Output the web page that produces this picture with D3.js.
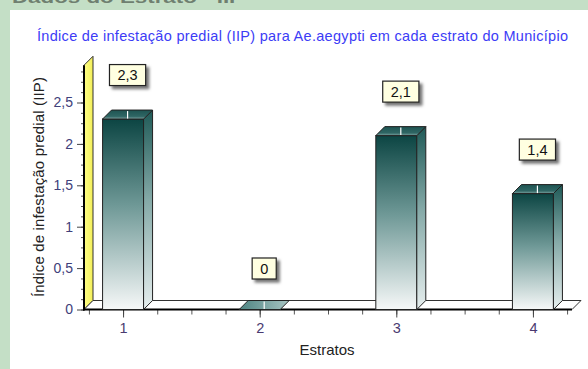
<!DOCTYPE html>
<html>
<head>
<meta charset="utf-8">
<script src="https://cdn.jsdelivr.net/npm/d3@7"></script>
<style>
  html, body { margin: 0; padding: 0; background: #c4dfc6; }
  svg { display: block; }
  text { font-family: "Liberation Sans", Arial, sans-serif; }
</style>
</head>
<body>
<svg id="chart" width="588" height="369"></svg>
<script>
// ---- data ----
const pageHeading = "Dados do Estrato - IIP";
const chartTitle = "Índice de infestação predial (IIP) para Ae.aegypti em cada estrato do Município";
const xAxisTitle = "Estratos";
const yAxisTitle = "Índice de infestação predial (IIP)";
const categories = [1, 2, 3, 4];
const values = [2.3, 0, 2.1, 1.4];
const valueLabels = ["2,3", "0", "2,1", "1,4"];
const yTickValues = [0, 0.5, 1, 1.5, 2, 2.5];
const yTickLabels = ["0", "0,5", "1", "1,5", "2", "2,5"];

// ---- layout ----
const svg = d3.select("#chart");
const depth = 9;
const barW = 41;
const x = d3.scaleLinear().domain([0.714, 4.286]).range([84, 572]);
const y = d3.scaleLinear().domain([0, 2.5]).range([309.5, 102.5]);
const wallTop = 2.95;

const defs = svg.append("defs");
function grad(id, stops, horiz) {
  const g = defs.append("linearGradient").attr("id", id)
    .attr("x1", 0).attr("y1", 0).attr("x2", horiz ? 1 : 0).attr("y2", horiz ? 0 : 1);
  stops.forEach(s => g.append("stop").attr("offset", s[0]).attr("stop-color", s[1]));
}
grad("gFront", [[0, "#0c4543"], [0.45, "#6e9896"], [1, "#f6f8f8"]]);
grad("gSide", [[0, "#1f5a57"], [0.45, "#84a9a7"], [1, "#e6eeee"]]);
grad("gTop", [[0, "#1e5452"], [0.7, "#2f6664"], [1, "#7fa5a3"]]);
grad("gTopZero", [[0, "#4e8482"], [1, "#a7c4c2"]], true);
grad("gWall", [[0, "#ffff88"], [1, "#f2ee58"]], true);
const f = defs.append("filter").attr("id", "shadow").attr("x", "-30%").attr("y", "-30%").attr("width", "170%").attr("height", "170%");
f.append("feDropShadow").attr("dx", 3).attr("dy", 3).attr("stdDeviation", 1.6)
  .attr("flood-color", "#000").attr("flood-opacity", 0.55);

// page heading (cut off at top, as in the original screenshot) and white panel
svg.append("text").attr("x", 12).attr("y", 3).attr("font-size", 17).attr("font-weight", "bold")
  .attr("fill", "#6f7f70").attr("textLength", 232).attr("lengthAdjust", "spacingAndGlyphs").text(pageHeading);
svg.append("rect").attr("x", 10).attr("y", 10).attr("width", 590).attr("height", 370).attr("fill", "#ffffff");

// title
svg.append("text").attr("x", 37).attr("y", 41).attr("font-size", 14.5).attr("fill", "#3c3cf6")
  .attr("textLength", 531).attr("lengthAdjust", "spacing").text(chartTitle);

// back yellow wall
const y0 = y(0);
svg.append("polygon")
  .attr("points", [[84, y0], [84 + depth, y0 - depth], [84 + depth, y(wallTop) - depth], [84, y(wallTop)]].map(p => p.join(",")).join(" "))
  .attr("fill", "url(#gWall)").attr("stroke", "#333").attr("stroke-width", 1);

// floor
svg.append("polygon")
  .attr("points", [[84, y0], [x.range()[1], y0], [x.range()[1] + depth, y0 - depth], [84 + depth, y0 - depth]].map(p => p.join(",")).join(" "))
  .attr("fill", "#ffffff").attr("stroke", "#333").attr("stroke-width", 1);

// y axis: minor ticks
const minorY = d3.range(0, wallTop, 0.125);
svg.append("g").attr("transform", "translate(84,0)")
  .call(d3.axisLeft(y).tickValues(minorY).tickSize(3).tickFormat(""))
  .call(g => g.select(".domain").remove())
  .call(g => g.selectAll("line").attr("stroke", "#555"));
// y axis: major ticks
svg.append("g").attr("transform", "translate(84,0)")
  .call(d3.axisLeft(y).tickValues(yTickValues).tickSize(7).tickPadding(4)
    .tickFormat((d, i) => yTickLabels[i]))
  .call(g => g.select(".domain").remove())
  .call(g => g.selectAll("line").attr("stroke", "#444"))
  .call(g => g.selectAll("text").attr("font-size", 14).attr("fill", "#40407a")
    .attr("font-family", "'Liberation Sans', Arial, sans-serif"));

// x axis minor ticks
const minorX = d3.range(0.75, 4.3, 0.25);
svg.append("g").attr("transform", `translate(0,${y0})`)
  .call(d3.axisBottom(x).tickValues(minorX).tickSize(5).tickFormat(""))
  .call(g => g.select(".domain").remove())
  .call(g => g.selectAll("line").attr("stroke", "#555"));
svg.append("g").attr("transform", `translate(0,${y0})`)
  .call(d3.axisBottom(x).tickValues(categories).tickSize(8).tickPadding(5).tickFormat(d3.format("d")))
  .call(g => g.select(".domain").remove())
  .call(g => g.selectAll("line").attr("stroke", "#444"))
  .call(g => g.selectAll("text").attr("font-size", 14.5).attr("fill", "#4a3a70")
    .attr("font-family", "'Liberation Sans', Arial, sans-serif"));

// bold axis lines
svg.append("line").attr("x1", 84).attr("x2", 84).attr("y1", y0 + 1).attr("y2", y(wallTop))
  .attr("stroke", "#000").attr("stroke-width", 2);
svg.append("line").attr("x1", 83).attr("x2", x.range()[1]).attr("y1", y0).attr("y2", y0)
  .attr("stroke", "#000").attr("stroke-width", 2);

// bars
const bars = svg.append("g");
categories.forEach((c, i) => {
  const v = values[i];
  const xl = x(c) - barW / 2, xr = x(c) + barW / 2;
  const yt = y(v);
  const g = bars.append("g");
  if (v > 0) {
    g.append("rect").attr("x", xl).attr("y", yt).attr("width", barW).attr("height", y0 - yt)
      .attr("fill", "url(#gFront)").attr("stroke", "#222").attr("stroke-width", 1);
    g.append("polygon")
      .attr("points", [[xr, yt], [xr + depth, yt - depth], [xr + depth, y0 - depth], [xr, y0]].map(p => p.join(",")).join(" "))
      .attr("fill", "url(#gSide)").attr("stroke", "#222").attr("stroke-width", 1);
  }
  g.append("polygon")
    .attr("points", [[xl, yt], [xr, yt], [xr + depth, yt - depth], [xl + depth, yt - depth]].map(p => p.join(",")).join(" "))
    .attr("fill", v > 0 ? "url(#gTop)" : "url(#gTopZero)").attr("stroke", "#222").attr("stroke-width", 1);
  g.append("line").attr("x1", x(c) + depth / 2).attr("x2", x(c) + depth / 2)
    .attr("y1", yt - depth + 1).attr("y2", yt - 0.5).attr("stroke", "#ffffff").attr("stroke-width", 1.2);
});

// value labels
const labels = svg.append("g");
categories.forEach((c, i) => {
  const cx = x(c) + depth / 2;
  const cy = y(values[i]) - (values[i] > 0 ? 44 : 41);
  const t = labels.append("text").attr("x", cx).attr("y", cy + 5).attr("text-anchor", "middle")
    .attr("font-size", 14.5).attr("fill", "#111").text(valueLabels[i]);
  const w = t.node().getComputedTextLength() + 16;
  labels.insert("rect", () => t.node())
    .attr("x", cx - w / 2).attr("y", cy - 10.5).attr("width", w).attr("height", 21)
    .attr("fill", "#ffffe1").attr("stroke", "#222").attr("stroke-width", 1.2)
    .attr("filter", "url(#shadow)");
});

// axis titles
svg.append("text").attr("x", 327).attr("y", 355).attr("text-anchor", "middle")
  .attr("font-size", 15).attr("fill", "#222")
  .attr("textLength", 55).attr("lengthAdjust", "spacing").text(xAxisTitle);
svg.append("text").attr("transform", "translate(44,187) rotate(-90)").attr("text-anchor", "middle")
  .attr("font-size", 15).attr("fill", "#222")
  .attr("textLength", 220).attr("lengthAdjust", "spacing").text(yAxisTitle);
</script>
</body>
</html>
